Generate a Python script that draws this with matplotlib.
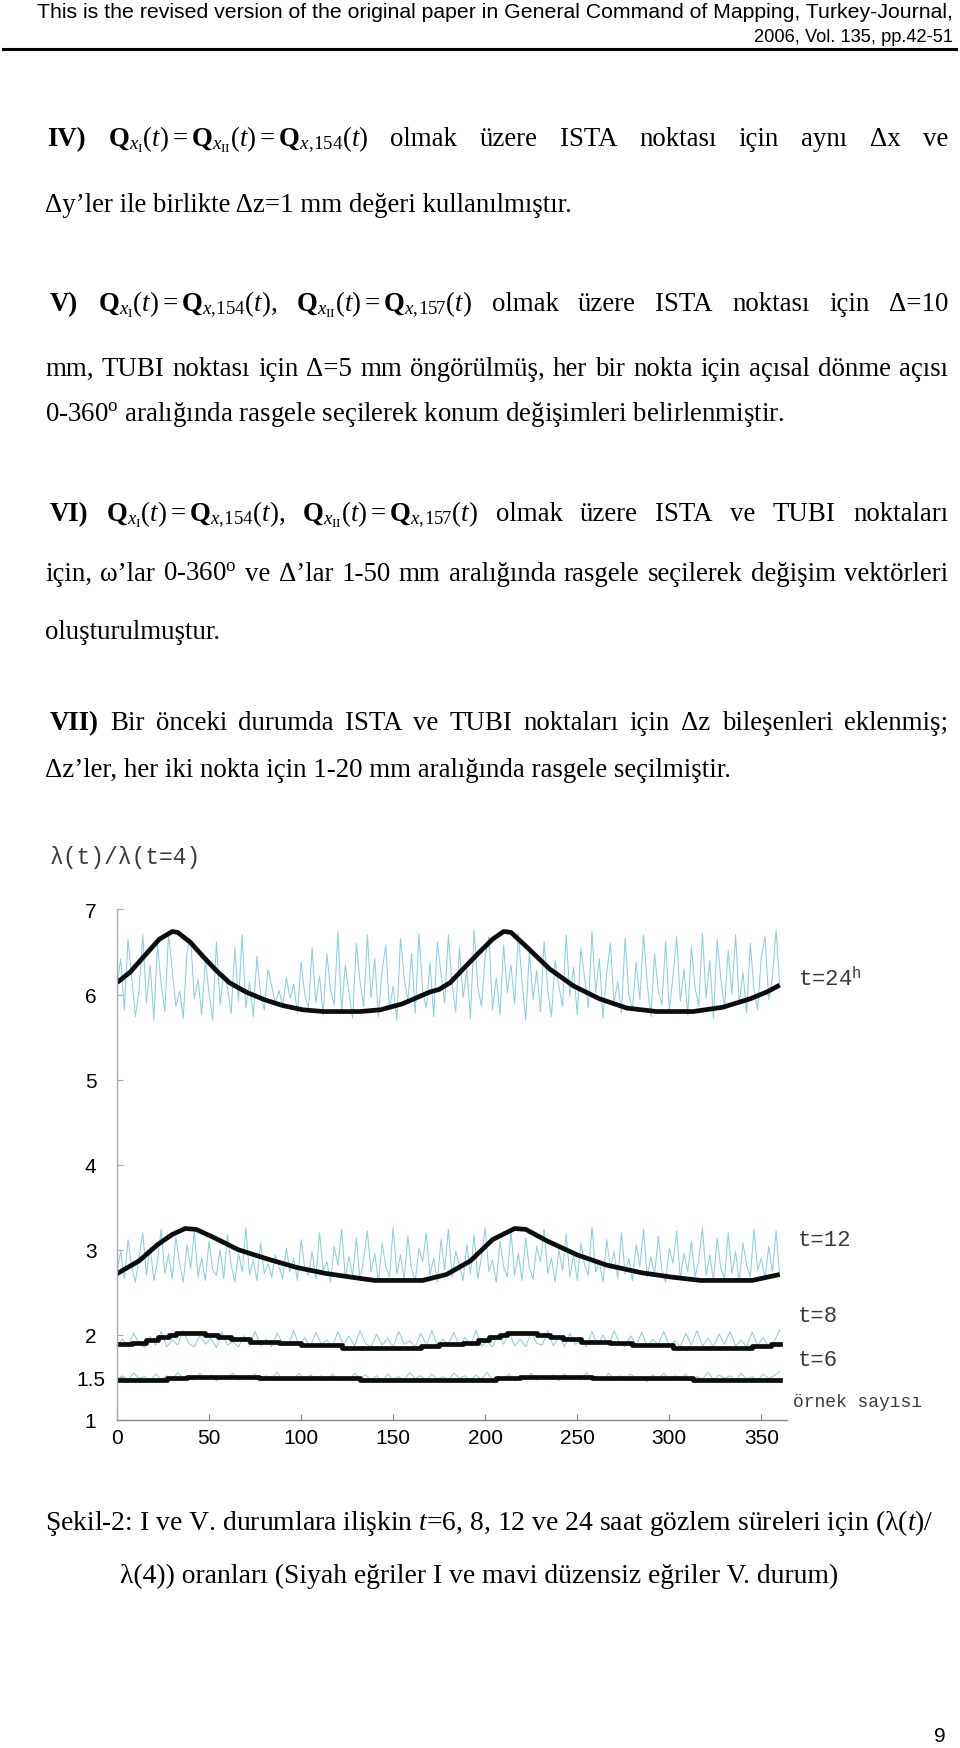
import numpy as np
import matplotlib
matplotlib.use('Agg')
import matplotlib.pyplot as plt
from matplotlib.lines import Line2D

W, H = 960, 1749
plt.rcParams['font.family'] = ['Liberation Serif', 'DejaVu Serif']
plt.rcParams['mathtext.fontset'] = 'custom'
plt.rcParams['mathtext.rm'] = 'Liberation Serif'
plt.rcParams['mathtext.it'] = 'Liberation Serif:italic'
plt.rcParams['mathtext.bf'] = 'Liberation Serif:bold'
plt.rcParams['mathtext.tt'] = 'Liberation Mono'

# ---- chart data: black curves (case I), read at key samples ----
t24_x = [0, 7, 16, 23, 30, 33, 40, 47, 54, 61, 70, 80, 90, 101, 112, 132, 143, 155, 170, 175,
         181, 188, 197, 204, 210, 214, 222, 235, 248, 262, 277, 293, 313, 329, 344, 353, 360]
t24_y = [6.14, 6.26, 6.48, 6.65, 6.74, 6.73, 6.61, 6.44, 6.28, 6.14, 6.03, 5.94, 5.87, 5.82, 5.80, 5.80, 5.82, 5.89, 6.03, 6.06,
         6.14, 6.30, 6.50, 6.65, 6.74, 6.73, 6.57, 6.30, 6.10, 5.95, 5.84, 5.80, 5.80, 5.85, 5.95, 6.03, 6.11]

t12_x = [0, 12, 22, 30, 37, 43, 53, 66, 82, 98, 114, 130, 140, 166, 179, 192, 204, 216, 222, 234, 250, 266, 285, 301, 317, 345, 360]
t12_y = [2.72, 2.87, 3.06, 3.18, 3.25, 3.24, 3.14, 3.00, 2.89, 2.79, 2.72, 2.67, 2.64, 2.64, 2.71, 2.87, 3.12, 3.25, 3.24, 3.10, 2.94, 2.82, 2.73, 2.68, 2.64, 2.64, 2.71]

t8_x = [0, 8, 16, 22, 28, 32, 48, 55, 62, 72, 88, 100, 122, 165, 175, 188, 196, 202, 208, 212, 228, 235, 242, 252, 268, 280, 302, 345, 355, 360]
t8_y = [1.89, 1.91, 1.94, 1.97, 2.00, 2.02, 2.00, 1.98, 1.95, 1.92, 1.90, 1.88, 1.85, 1.87, 1.89, 1.91, 1.94, 1.97, 2.00, 2.02, 2.00, 1.98, 1.95, 1.92, 1.90, 1.88, 1.85, 1.87, 1.89, 1.89]

t6_x = [0, 27, 38, 77, 132, 206, 219, 258, 313, 360]
t6_y = [1.47, 1.49, 1.505, 1.49, 1.47, 1.49, 1.505, 1.49, 1.47, 1.47]

# ---- chart data: irregular curves (case V) ----
n24 = [6.10, 6.42, 5.82, 6.65, 6.20, 5.74, 6.05, 6.70, 5.90, 6.35, 5.70, 6.58, 6.12, 5.80, 6.72, 6.28, 5.86, 6.04, 5.72, 6.50,
       6.66, 5.95, 6.18, 5.76, 6.40, 6.02, 5.70, 6.62, 5.88, 6.25, 6.08, 5.78, 6.55, 5.92, 6.70, 5.84, 6.15, 5.74, 6.45, 6.00,
       5.82, 6.30, 6.10, 5.90, 6.05, 5.86, 6.20, 5.95, 6.12, 5.78, 6.38, 6.00, 5.84, 6.55, 5.90, 6.22, 5.76, 6.48, 6.05, 5.88,
       6.74, 5.80, 6.35, 6.02, 5.72, 6.60, 6.15, 5.86, 6.70, 5.96, 6.42, 5.74, 6.28, 6.58, 5.82, 6.10, 5.70, 6.66, 6.20, 5.92,
       6.48, 5.78, 6.72, 6.04, 5.84, 6.38, 5.74, 6.62, 6.25, 5.90, 6.70, 6.12, 5.80, 6.55, 5.96, 6.30, 5.72, 6.76, 6.08, 5.86,
       6.45, 6.68, 5.82, 6.20, 5.76, 6.58, 6.02, 6.35, 5.88, 6.72, 6.15, 5.70, 6.50, 5.94, 6.28, 5.80, 6.62, 6.05, 5.74, 6.40,
       6.10, 5.86, 6.70, 5.98, 6.32, 5.76, 6.55, 6.20, 5.84, 6.74, 6.02, 6.42, 5.72, 6.25, 6.60, 5.90, 6.15, 5.78, 6.66, 6.00,
       5.82, 6.38, 5.94, 6.70, 6.12, 5.74, 6.48, 6.05, 5.88, 6.62, 5.80, 6.22, 6.68, 5.92, 6.30, 5.76, 6.56, 6.08, 5.86, 6.72,
       5.96, 6.40, 5.72, 6.64, 6.18, 5.84, 6.52, 6.00, 6.70, 5.90, 6.26, 5.78, 6.60, 6.06, 5.82, 6.45, 6.68, 5.94, 6.20, 6.76, 6.10]
n12 = [2.74, 2.98, 2.66, 3.12, 2.80, 2.62, 2.92, 3.20, 2.70, 3.04, 2.64, 2.86, 3.24, 2.72, 2.95, 2.66, 3.15, 2.84, 2.62, 3.06,
       2.78, 3.22, 2.68, 2.90, 2.64, 3.10, 2.76, 2.70, 3.00, 2.66, 3.18, 2.82, 2.62, 2.96, 2.74, 3.26, 2.70, 2.88, 2.64, 3.08,
       2.72, 2.84, 2.68, 2.94, 2.80, 2.66, 3.02, 2.74, 2.90, 2.64, 3.12, 2.78, 2.70, 2.98, 2.66, 3.20, 2.76, 2.86, 2.62, 3.04,
       2.82, 3.24, 2.68, 2.92, 2.70, 3.14, 2.64, 2.88, 3.22, 2.74, 2.96, 2.62, 3.08, 2.80, 2.68, 3.26, 2.72, 2.94, 2.66, 3.16,
       2.78, 2.64, 3.02, 2.86, 3.20, 2.70, 2.90, 2.62, 3.12, 2.76, 3.24, 2.68, 2.98, 2.82, 2.64, 3.06, 2.72, 3.18, 2.66, 2.92,
       3.26, 2.74, 2.88, 2.62, 3.10, 2.80, 2.68, 3.22, 2.70, 2.96, 2.64, 3.14, 2.78, 2.66, 3.04, 2.86, 3.24, 2.72, 2.90, 2.62,
       3.00, 2.76, 3.18, 2.68, 2.94, 2.64, 3.08, 2.82, 2.70, 3.26, 2.74, 2.86, 2.62, 3.12, 2.78, 2.98, 2.66, 3.20, 2.72, 2.90,
       2.64, 3.06, 2.80, 3.24, 2.68, 2.92, 2.70, 3.16, 2.76, 2.62, 3.02, 2.84, 3.22, 2.66, 2.96, 2.74, 3.10, 2.68, 2.88, 3.26,
       2.70, 2.94, 2.64, 3.14, 2.78, 2.66, 3.20, 2.72, 2.98, 2.62, 3.08, 2.82, 2.68, 3.24, 2.76, 2.90, 2.66, 3.04, 2.74, 3.22, 2.70]
n8 = [1.88, 1.95, 1.86, 2.02, 1.90, 1.85, 1.98, 1.88, 2.04, 1.86, 1.94, 1.88, 2.05, 1.90, 1.86, 2.00, 1.89, 1.96, 1.85, 2.03,
      1.88, 1.92, 1.86, 1.99, 1.88, 2.04, 1.87, 1.95, 1.86, 2.02, 1.90, 1.88, 2.05, 1.87, 1.97, 1.86, 2.03, 1.89, 1.94, 1.86,
      2.04, 1.88, 1.99, 1.87, 2.05, 1.90, 1.86, 2.01, 1.88, 1.96, 1.86, 2.04, 1.89, 1.93, 1.86, 2.02, 1.88, 2.05, 1.87, 1.95,
      1.89, 2.03, 1.86, 1.97, 1.88, 2.05, 1.87, 1.92, 1.86, 2.01, 1.89, 2.04, 1.87, 1.95, 1.86, 2.03, 1.90, 1.88, 2.05, 1.87,
      1.98, 1.86, 2.02, 1.89, 1.94, 1.86, 2.04, 1.88, 2.00, 1.87, 2.05, 1.90, 1.86, 1.99, 1.88, 2.03, 1.86, 1.95, 1.89, 2.04,
      1.87, 1.93, 1.86, 2.02, 1.88, 2.05, 1.87, 1.96, 1.86, 2.01, 1.89, 2.04, 1.87, 1.94, 1.86, 2.03, 1.88, 1.97, 1.86, 1.92, 2.06]
n6 = [1.48, 1.52, 1.47, 1.55, 1.49, 1.51, 1.46, 1.54, 1.48, 1.52, 1.47, 1.56, 1.49, 1.51, 1.47, 1.55, 1.48, 1.53, 1.46, 1.52,
      1.49, 1.55, 1.47, 1.51, 1.48, 1.54, 1.46, 1.52, 1.49, 1.56, 1.47, 1.51, 1.48, 1.55, 1.46, 1.53, 1.49, 1.52, 1.47, 1.54,
      1.48, 1.51, 1.46, 1.55, 1.49, 1.53, 1.47, 1.52, 1.45, 1.54, 1.48, 1.51, 1.47, 1.56, 1.49, 1.52, 1.46, 1.54, 1.48, 1.51,
      1.47, 1.55, 1.49, 1.52, 1.46, 1.53, 1.48, 1.56, 1.47, 1.51, 1.49, 1.54, 1.46, 1.52, 1.48, 1.55, 1.47, 1.51, 1.49, 1.53,
      1.46, 1.54, 1.48, 1.52, 1.47, 1.56, 1.49, 1.51, 1.46, 1.55, 1.48, 1.52, 1.47, 1.54, 1.49, 1.51, 1.45, 1.53, 1.48, 1.55,
      1.47, 1.52, 1.49, 1.54, 1.46, 1.51, 1.48, 1.56, 1.47, 1.53, 1.49, 1.52, 1.46, 1.55, 1.48, 1.51, 1.47, 1.54, 1.49, 1.52, 1.57]

yticks = [1, 1.5, 2, 3, 4, 5, 6, 7]
ytick_labels = ['1', '1.5', '2', '3', '4', '5', '6', '7']
xticks = [0, 50, 100, 150, 200, 250, 300, 350]

fig = plt.figure(figsize=(W / 100, H / 100), dpi=100)
rend = fig.canvas.get_renderer()


def fy(y):
    return 1 - y / H


def measure(s, **kw):
    t = fig.text(0, 0, s, **kw)
    w = t.get_window_extent(rend).width
    t.remove()
    return w


def fit(s, target, family):
    # font size that makes s exactly `target` pixels wide
    return 20 * target / measure(s, size=20, family=family)


body_size = fit('Δz’ler, her iki nokta için 1-20 mm aralığında rasgele seçilmiştir.', 690, 'Liberation Serif')
BODY = dict(family='Liberation Serif', size=body_size, color='black')


def jline(text, y, x0=45, x1=948, nbold=0):
    # justified line: spread the words between x0 and x1
    words = text.split(' ')
    kws = [dict(BODY, weight='bold') if i < nbold else dict(BODY) for i in range(len(words))]
    ws = [measure(w, **k) for w, k in zip(words, kws)]
    gap = (x1 - x0 - sum(ws)) / (len(words) - 1)
    x = x0
    for w, k, wd in zip(words, kws, ws):
        fig.text(x / W, fy(y), w, va='baseline', **k)
        x += wd + gap


def pline(text, y, x0=45, **kw):
    fig.text(x0 / W, fy(y), text, va='baseline', **dict(BODY, **kw))


# ---- header ----
h1 = 'This is the revised version of the original paper in General Command of Mapping, Turkey-Journal,'
h_size = fit(h1, 916, 'Liberation Sans')
HDR = dict(family='Liberation Sans', color='black', ha='right', va='baseline')
fig.text(953 / W, fy(18), h1, size=h_size, **HDR)
fig.text(953 / W, fy(42), '2006, Vol. 135, pp.42-51', size=h_size * 0.86, **HDR)
fig.add_artist(Line2D([3 / W, 956 / W], [fy(50), fy(50)], lw=2.2, color='black'))

# ---- body text ----
Q1 = r'\mathbf{Q}_{x_{\mathrm{I}}}(t)'
Q2 = r'\mathbf{Q}_{x_{\mathrm{II}}}(t)'
Q154 = r'\mathbf{Q}_{x,\!154}(t)'
Q157 = r'\mathbf{Q}_{x,\!157}(t)'

jline(f'IV) ${Q1}={Q2}={Q154}$ olmak üzere ISTA noktası için aynı Δx ve', 146, x0=47, nbold=1)
pline('Δy’ler ile birlikte Δz=1 mm değeri kullanılmıştır.', 212)

jline(f'V) ${Q1}={Q154},$ ${Q2}={Q157}$ olmak üzere ISTA noktası için Δ=10', 311, x0=50, nbold=1)
jline('mm, TUBI noktası için Δ=5 mm öngörülmüş, her bir nokta için açısal dönme açısı', 376)
pline(r'0-360$^{\mathrm{o}}$ aralığında rasgele seçilerek konum değişimleri belirlenmiştir.', 421)

jline(f'VI) ${Q1}={Q154},$ ${Q2}={Q157}$ olmak üzere ISTA ve TUBI noktaları', 521, x0=50, nbold=1)
jline(r'için, ω’lar 0-360$^{\mathrm{o}}$ ve Δ’lar 1-50 mm aralığında rasgele seçilerek değişim vektörleri', 581)
pline('oluşturulmuştur.', 639)

jline('VII) Bir önceki durumda ISTA ve TUBI noktaları için Δz bileşenleri eklenmiş;', 730, x0=50, nbold=1)
pline('Δz’ler, her iki nokta için 1-20 mm aralığında rasgele seçilmiştir.', 777)

# ---- chart ----
x0px, y1px = 117, 1421
ppx, ppy = 1.841, 85.1
xmax = 364
ax = fig.add_axes([x0px / W, 1 - y1px / H, xmax * ppx / W, 6 * ppy / H])
ax.set_xlim(0, xmax)
ax.set_ylim(1, 7)

blue = '#8ccfdd'
for arr in [n24, n12, n8, n6]:
    ax.plot(np.linspace(0, 360, len(arr)), arr, color=blue, lw=0.75)

ax.plot(t24_x, t24_y, color='#0d0d0d', lw=3.4, solid_capstyle='butt')
ax.plot(t12_x, t12_y, color='#0d0d0d', lw=3.4, solid_capstyle='butt')
ax.plot(t8_x, t8_y, color='#0d0d0d', lw=3.4, drawstyle='steps-post')
ax.plot(t6_x, t6_y, color='#0d0d0d', lw=3.4, drawstyle='steps-post')

for s in ['top', 'right']:
    ax.spines[s].set_visible(False)
ax.spines['left'].set_color('#aaaaaa')
ax.spines['bottom'].set_color('#888888')
ax.spines['left'].set_linewidth(1.0)
ax.spines['bottom'].set_linewidth(1.0)
ax.set_yticks(yticks)
ax.set_yticklabels(ytick_labels, family='Liberation Sans', fontsize=15, ha='center')
ax.set_xticks(xticks)
ax.set_xticklabels([str(v) for v in xticks], family='Liberation Sans', fontsize=15)
ax.tick_params(axis='y', direction='in', length=4, color='#aaaaaa', pad=19)
ax.tick_params(axis='x', direction='in', length=4, color='#888888', pad=6)

MONO = dict(family='Liberation Mono', color='#3a3a3a', va='center')
fig.text(50 / W, fy(858), 'λ(t)/λ(t=4)', size=16.5, **MONO)
fig.text(798 / W, fy(978), r't=24$^{\mathtt{h}}$', size=16, **MONO)
fig.text(798 / W, fy(1240), 't=12', size=16, **MONO)
fig.text(798 / W, fy(1317), 't=8', size=16, **MONO)
fig.text(798 / W, fy(1361), 't=6', size=16, **MONO)
fig.text(793 / W, fy(1403), 'örnek sayısı', size=13, **MONO)

# ---- caption ----
cap1 = r'Şekil-2: I ve V. durumlara ilişkin $t$=6, 8, 12 ve 24 saat gözlem süreleri için (λ($t$)/'
cap_size = fit(cap1, 889, 'Liberation Serif')
pline(cap1, 1530, x0=45, size=cap_size)
cap2 = 'λ(4)) oranları (Siyah eğriler I ve mavi düzensiz eğriler V. durum)'
fig.text(479 / W, fy(1583), cap2, va='baseline', ha='center', **dict(BODY, size=cap_size))

fig.text(940 / W, fy(1737), '9', family='Liberation Sans', size=15, ha='center', va='center')

fig.savefig('out.png', dpi=100)
